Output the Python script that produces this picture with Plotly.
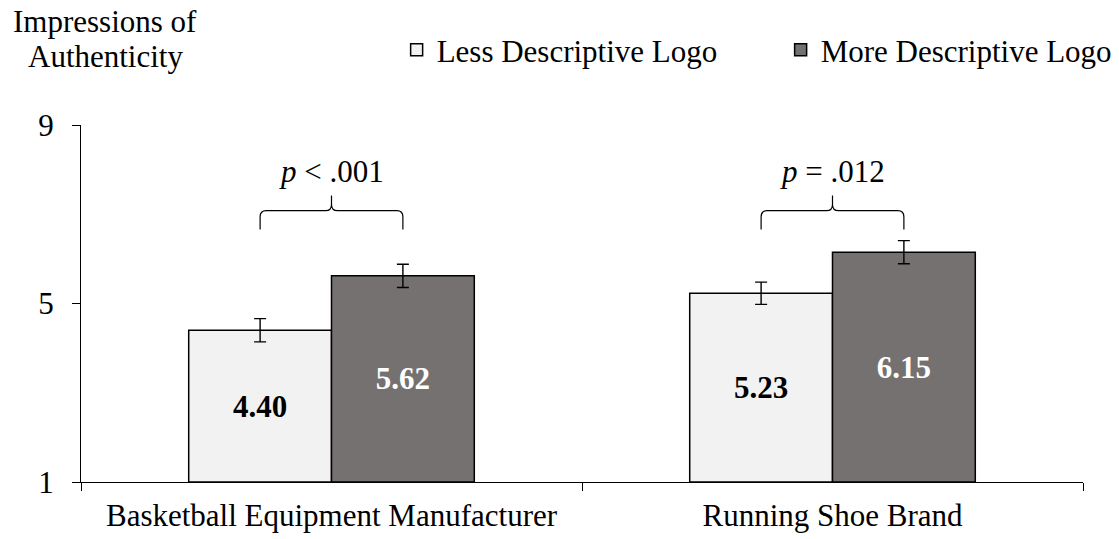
import plotly.graph_objects as go

categories = ["Basketball Equipment Manufacturer", "Running Shoe Brand"]
series_names = ["Less Descriptive Logo", "More Descriptive Logo"]
less_vals = [4.40, 5.23]
more_vals = [5.62, 6.15]
less_err = [0.26, 0.25]
more_err = [0.26, 0.26]
p_labels = ["<i>p</i> &lt; .001", "<i>p</i> = .012"]
y_ticks = [1, 5, 9]
title_lines = ["Impressions of", "Authenticity"]

FONT = "Liberation Serif, Times New Roman, serif"
FS = 31
Y_MIN = 1  # bars rise from the axis minimum, as in the source chart
BARGAP = 0.43
half_off = (1 - BARGAP) / 4  # center offset of each bar within a group

fig = go.Figure()
for name, vals, errs, fill, tcol in [
    (series_names[0], less_vals, less_err, "#F2F2F2", "black"),
    (series_names[1], more_vals, more_err, "#767171", "white"),
]:
    fig.add_trace(go.Bar(
        name=name, x=categories, y=[v - Y_MIN for v in vals], base=Y_MIN,
        text=vals, texttemplate="<b>%{text:.2f}</b>",
        hovertemplate="%{x}<br>%{text:.2f}<extra>" + name + "</extra>",
        marker=dict(color=fill, line=dict(color="black", width=1.5)),
        error_y=dict(type="data", array=errs, color="black", thickness=1.4, width=6),
        textposition="inside", insidetextanchor="middle",
        textangle=0, constraintext="none",
        insidetextfont=dict(family=FONT, size=FS, color=tcol),
    ))

# braces and p-value labels
y_tip, y_bar, y_apex = 6.66, 7.08, 7.42
dx = 0.012
dy = 0.14
for i, lab in enumerate(p_labels):
    x0 = i - half_off
    x1 = i + half_off
    xm = i
    path = (
        f"M{x0},{y_tip} L{x0},{y_bar - dy} Q{x0},{y_bar} {x0 + dx},{y_bar} "
        f"L{xm - dx},{y_bar} Q{xm},{y_bar} {xm},{y_bar + dy} L{xm},{y_apex} "
        f"M{xm},{y_bar + dy} Q{xm},{y_bar} {xm + dx},{y_bar} "
        f"L{x1 - dx},{y_bar} Q{x1},{y_bar} {x1},{y_bar - dy} L{x1},{y_tip}"
    )
    fig.add_shape(type="path", path=path, xref="x2", yref="y",
                  line=dict(color="black", width=1.2))
    fig.add_annotation(x=xm, y=7.95, xref="x2", yref="y", text=lab, showarrow=False,
                       font=dict(family=FONT, size=FS, color="black"))

for j, line in enumerate(title_lines):
    fig.add_annotation(x=0.024, y=1.29 - j * 0.098, xref="paper", yref="paper",
                       text=line, showarrow=False,
                       xanchor="center", yanchor="middle",
                       font=dict(family=FONT, size=FS, color="black"))

fig.update_layout(
    width=1119, height=539,
    margin=dict(l=81, r=36, t=125, b=57, autoexpand=False),
    paper_bgcolor="white", plot_bgcolor="white",
    barmode="group", bargap=BARGAP, bargroupgap=0,
    font=dict(family=FONT, size=FS, color="black"),
    showlegend=True,
    legend=dict(orientation="h", x=0.315, xanchor="left", y=1.21, yanchor="middle",
                font=dict(family=FONT, size=FS, color="black"),
                itemwidth=30, entrywidth=339, entrywidthmode="pixels",
                bgcolor="rgba(0,0,0,0)"),
    xaxis=dict(type="category", showline=True, linecolor="black", linewidth=1.3,
               ticks="outside", tickson="boundaries", ticklen=8, tickcolor="black",
               showgrid=False, zeroline=False, range=[-0.5, 1.5], ticklabelstandoff=6,
               tickangle=0, automargin=False,
               tickfont=dict(family=FONT, size=FS, color="black")),
    xaxis2=dict(overlaying="x", range=[-0.5, 1.5], visible=False, type="linear"),
    yaxis=dict(range=[Y_MIN, 9], tickvals=y_ticks, showline=True, linecolor="black",
               linewidth=1.3, ticks="outside", ticklen=8, tickcolor="black",
               showgrid=False, zeroline=False, ticklabelstandoff=12, automargin=False,
               tickfont=dict(family=FONT, size=FS, color="black")),
)

fig.write_html("out.html", post_script="document.body.style.margin='0';",
               config={"displayModeBar": False})
